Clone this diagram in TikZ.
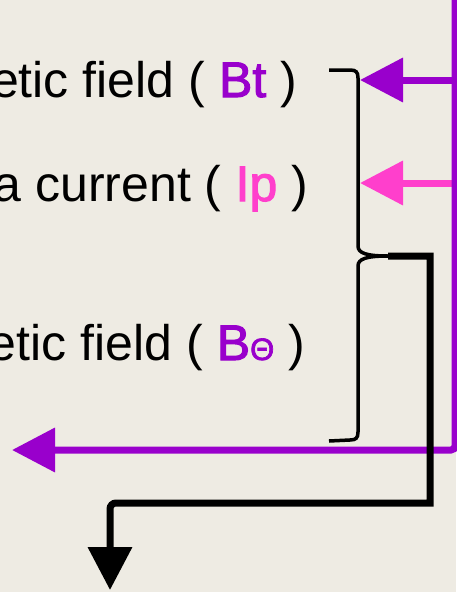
\documentclass[tikz,border=0pt]{standalone}
\usepackage{fontspec}
\setmainfont{Liberation Sans}
\newfontfamily\symbfont[FakeBold=2.2]{Liberation Sans}
\usetikzlibrary{arrows.meta}

\definecolor{paper}{HTML}{EEEBE3}
\definecolor{fieldpurple}{HTML}{9900CC}
\definecolor{currentpink}{HTML}{FF3FCC}

\tikzset{
  labeltext/.style={anchor=base east, inner sep=0pt, font=\fontsize{50}{60}\selectfont},
  feed/.style={line width=7pt, -{Triangle[width=43pt,length=43pt]}},
  braceline/.style={line width=3.5pt, line cap=butt},
  outflow/.style={line width=7pt, black, -{Triangle[width=43pt,length=43pt]}}
}

% quantity symbols, set a little heavier than the running text
\newcommand{\qty}[2]{\textcolor{#1}{\symbfont #2}}
\newcommand{\smalltheta}{{\fontsize{31}{31}\selectfont Θ}}

\begin{document}
\begin{tikzpicture}[x=1pt,y=-1pt]
  % page
  \fill[paper] (0,0) rectangle (456,592);
  \useasboundingbox (0,0) rectangle (456,592);

  % labels
  \node[labeltext] (bt) at (297,97)
    {etic field ( \qty{fieldpurple}{Bt} )};
  \node[labeltext] (ip) at (308,201)
    {a current ( \qty{currentpink}{Ip} )};
  \node[labeltext] (bth) at (305,360)
    {etic field ( \qty{fieldpurple}{B\smalltheta} )};

  % connector end points
  \coordinate (feedtop) at (455,-10);
  \coordinate (btin)  at (360,80);
  \coordinate (ipin)  at (360,183);
  \coordinate (bthout) at (12,450);
  \coordinate (brtip) at (388,256);
  \coordinate (drop)  at (110,590);

  % curly bracket gathering the three quantities
  \draw[braceline]
    (329,70) -- (350,70) .. controls (356,70) and (358,72) .. (358,78)
    -- (358,246) .. controls (358,253) and (366,256) .. (brtip)
    .. controls (366,256) and (358,259) .. (358,266)
    -- (358,432) .. controls (358,438) and (356,440) .. (350,440)
    -- (329,441);

  % incoming feeds
  \draw[feed, fieldpurple] (452,80) -- (btin);
  \draw[feed, currentpink] (452,183) -- (ipin);
  \draw[feed, fieldpurple, rounded corners=4pt]
    (feedtop) -- (455,450) -- (bthout);

  % combined output
  \draw[outflow] (brtip) -- (430,256) -- (430,503)
    [rounded corners=6pt] -- (110,503) -- (drop);
\end{tikzpicture}
\end{document}
